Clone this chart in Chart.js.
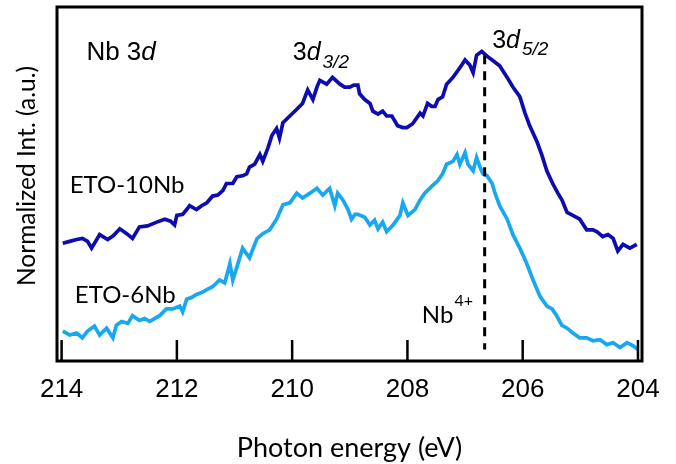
<!DOCTYPE html>
<html>
<head>
<meta charset="utf-8">
<script src="https://cdn.jsdelivr.net/npm/chart.js@4/dist/chart.umd.min.js"></script>
<style>
html,body{margin:0;padding:0;background:#fff;}
#wrap{width:676px;height:464px;position:relative;}
</style>
</head>
<body>
<div id="wrap"><canvas id="c" width="676" height="464"></canvas></div>
<script>
// Photon energy (eV) and normalized intensity (a.u.)
const energy10Nb = [213.98,213.86,213.74,213.64,213.55,213.48,213.34,213.20,213.10,212.99,
212.87,212.77,212.65,212.51,212.35,212.21,212.11,212.04,212.00,211.90,
211.83,211.78,211.66,211.57,211.48,211.38,211.29,211.20,211.14,211.03,
210.96,210.86,210.79,210.74,210.65,210.56,210.51,210.42,210.35,210.27,
210.22,210.16,210.04,209.92,209.82,209.73,209.64,209.57,209.52,209.40,
209.30,209.17,209.09,209.00,208.93,208.86,208.83,208.74,208.65,208.60,
208.51,208.43,208.36,208.27,208.17,208.08,208.01,207.91,207.78,207.73,
207.65,207.58,207.52,207.47,207.39,207.32,207.21,207.09,207.00,206.92,
206.86,206.80,206.71,206.62,206.53,206.40,206.27,206.17,206.05,205.96,
205.88,205.75,205.67,205.58,205.48,205.39,205.32,205.23,205.13,205.01,
204.89,204.78,204.71,204.61,204.52,204.43,204.35,204.26,204.14,204.02];
const int10Nb = [122,124,126,127,124,117,131,126,130,137,
132,127,139,140,144,147,145,141,151,152,
157,161,157,161,164,171,172,177,184,184,
191,192,194,201,204,214,207,221,234,241,
231,247,254,261,267,281,271,284,291,287,
294,287,284,284,286,286,277,271,267,259,
256,259,254,254,244,242,242,246,257,254,
267,264,264,271,274,287,294,304,312,307,
299,317,321,316,312,306,294,284,274,257,
244,227,214,197,184,174,167,154,151,147,
136,136,134,129,131,127,114,121,117,121];

const energy6Nb = [213.98,213.86,213.74,213.64,213.55,213.43,213.34,213.22,213.11,213.05,
212.96,212.85,212.77,212.65,212.56,212.47,212.39,212.30,212.18,212.07,
211.95,211.90,211.83,211.74,211.66,211.57,211.48,211.38,211.26,211.17,
211.08,211.03,210.96,210.86,210.74,210.61,210.51,210.39,210.27,210.16,
210.04,209.92,209.82,209.69,209.57,209.47,209.35,209.26,209.21,209.12,
209.03,208.97,208.91,208.86,208.74,208.65,208.57,208.51,208.43,208.36,
208.25,208.13,208.08,207.99,207.87,207.78,207.70,207.58,207.47,207.39,
207.32,207.21,207.14,207.09,207.00,206.95,206.86,206.80,206.74,206.69,
206.62,206.53,206.48,206.40,206.27,206.17,206.05,205.93,205.82,205.70,
205.58,205.49,205.41,205.32,205.23,205.13,205.01,204.89,204.78,204.66,
204.54,204.43,204.31,204.19,204.09,204.00];
const int6Nb = [31,27,29,24,31,36,27,34,24,37,
41,39,47,42,44,41,44,47,54,54,
57,51,64,66,69,71,74,77,84,81,
101,84,97,117,107,127,132,136,147,162,
164,174,169,174,179,172,179,161,174,167,
157,147,152,152,149,141,146,137,144,134,
141,151,164,151,157,167,174,181,187,194,
204,207,214,204,216,204,197,211,201,194,
192,184,174,161,147,131,117,101,84,67,
57,54,47,37,34,29,24,24,21,22,
17,19,14,19,16,12];

const xTickValues = [214, 212, 210, 208, 206, 204];
const nb4Energy = 206.66;
const nb4Top = 317, nb4Bottom = 12;

const toPts = (xs, ys) => xs.map((x, i) => ({x: x, y: ys[i]}));

const decor = {
  id: 'decor',
  afterDatasetsDraw(chart) {
    const {ctx, chartArea: a, scales: {x, y}} = chart;
    ctx.save();
    // dashed Nb4+ marker
    ctx.strokeStyle = '#000';
    ctx.lineWidth = 3;
    ctx.setLineDash([9, 7]);
    ctx.beginPath();
    ctx.moveTo(x.getPixelForValue(nb4Energy), y.getPixelForValue(nb4Top));
    ctx.lineTo(x.getPixelForValue(nb4Energy), y.getPixelForValue(nb4Bottom));
    ctx.stroke();
    ctx.setLineDash([]);
    // inward ticks
    ctx.lineWidth = 2.5;
    x.ticks.forEach(t => {
      const px = x.getPixelForValue(t.value);
      ctx.beginPath();
      ctx.moveTo(px, a.bottom);
      ctx.lineTo(px, a.bottom - 21);
      ctx.stroke();
    });
    // frame
    ctx.lineWidth = 3;
    ctx.strokeRect(a.left, a.top, a.right - a.left, a.bottom - a.top);

    ctx.fillStyle = '#000';
    ctx.textBaseline = 'alphabetic';
    ctx.textAlign = 'left';
    const txt = (s, font, px, py) => { ctx.font = font; ctx.fillText(s, px, py); return px + ctx.measureText(s).width; };
    // Nb 3d
    let cx = txt('Nb 3', '26px "Liberation Sans"', x.getPixelForValue(213.57), y.getPixelForValue(312));
    txt('d', 'italic 26px "Liberation Sans"', cx, y.getPixelForValue(312));
    // 3d3/2
    let bx = x.getPixelForValue(209.99), by = y.getPixelForValue(312);
    cx = txt('3', '25px "Liberation Sans"', bx, by);
    cx = txt('d', 'italic 25px "Liberation Sans"', cx, by);
    txt('3/2', 'italic 19px "Liberation Sans"', cx + 2, by + 8);
    // 3d5/2
    bx = x.getPixelForValue(206.53); by = y.getPixelForValue(324);
    cx = txt('3', '25px "Liberation Sans"', bx, by);
    cx = txt('d', 'italic 25px "Liberation Sans"', cx, by);
    txt('5/2', 'italic 19px "Liberation Sans"', cx + 2, by + 7);
    // sample labels
    txt('ETO-10Nb', '24px Lato', x.getPixelForValue(213.86), y.getPixelForValue(174));
    txt('ETO-6Nb', '24px Lato', x.getPixelForValue(213.77), y.getPixelForValue(60));
    // Nb4+
    cx = txt('Nb', '24px Lato', x.getPixelForValue(207.75), y.getPixelForValue(39));
    txt('4+', '16px Lato', cx + 1, y.getPixelForValue(57));
    // y title
    ctx.translate(35, (a.top + a.bottom) / 2 - 8);
    ctx.rotate(-Math.PI / 2);
    ctx.textAlign = 'center';
    ctx.font = '24.5px Lato';
    ctx.fillText('Normalized Int. (a.u.)', 0, 0);
    ctx.restore();
  }
};

new Chart(document.getElementById('c'), {
  type: 'line',
  data: {
    datasets: [
      {label: 'ETO-10Nb', data: toPts(energy10Nb, int10Nb), borderColor: '#0c0cb0', borderWidth: 3.7, pointRadius: 0, tension: 0, fill: false},
      {label: 'ETO-6Nb', data: toPts(energy6Nb, int6Nb), borderColor: '#18a8f0', borderWidth: 3.7, pointRadius: 0, tension: 0, fill: false}
    ]
  },
  options: {
    responsive: false,
    animation: false,
    events: [],
    layout: {padding: {left: 57, right: 34, top: 7, bottom: 1.4}},
    plugins: {legend: {display: false}, tooltip: {enabled: false}},
    scales: {
      x: {
        type: 'linear', reverse: true, min: 203.93, max: 214.08,
        afterBuildTicks: s => { s.ticks = xTickValues.map(v => ({value: v})); },
        grid: {display: false, drawTicks: false},
        border: {display: false},
        ticks: {padding: 13, color: '#000', font: {family: '"Liberation Sans"', size: 26}, maxRotation: 0, autoSkip: false, callback: v => String(v)},
        title: {display: true, text: 'Photon energy (eV)', color: '#000', font: {family: 'Lato', size: 27}, padding: {top: 14, bottom: -2}}
      },
      y: {display: false, min: 0, max: 367}
    }
  },
  plugins: [decor]
});
</script>
</body>
</html>
